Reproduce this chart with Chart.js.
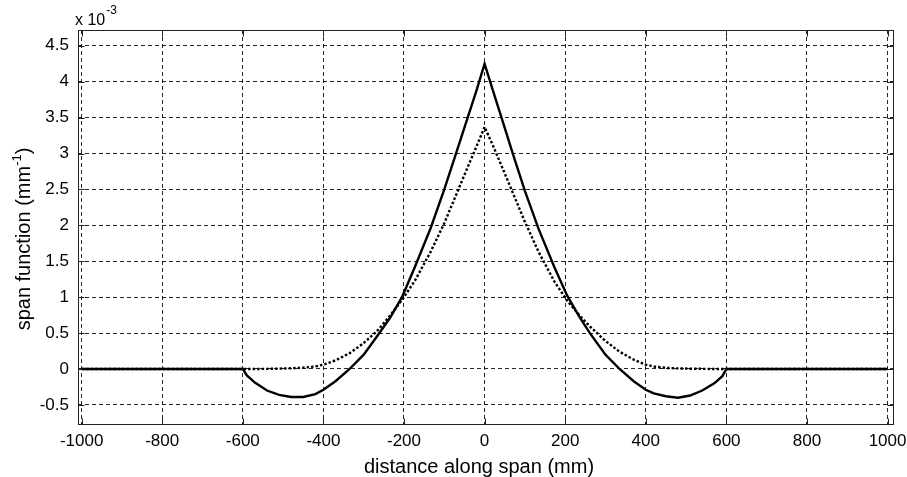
<!DOCTYPE html>
<html><head><meta charset="utf-8">
<script src="https://cdn.jsdelivr.net/npm/chart.js@4.4.1/dist/chart.umd.min.js"></script>
<style>html,body{margin:0;padding:0;background:#fff;}canvas{display:block;}</style>
</head><body>
<canvas id="c" width="907" height="477"></canvas>
<script>
// distance along span (mm)
const positions = [-1000, -800, -600, -590, -570, -540, -510, -480, -450, -420, -400, -370, -335, -300, -265, -235, -205, -173, -134, -100, -71, -42, -20,
  0,
  20, 42, 71, 100, 134, 173, 205, 235, 260, 300, 335, 370, 400, 420, 450, 480, 510, 540, 570, 590, 600, 800, 1000];
// span function (x 10^-3 mm^-1), solid curve
const solidCurve = [0, 0, 0, -0.09, -0.19, -0.30, -0.36, -0.39, -0.39, -0.35, -0.29, -0.17, 0, 0.2, 0.47, 0.71, 1.0, 1.42, 1.96, 2.5, 3.0, 3.5, 3.88,
  4.25,
  3.89, 3.5, 2.98, 2.48, 1.95, 1.42, 1.02, 0.73, 0.51, 0.2, 0, -0.17, -0.29, -0.34, -0.38, -0.40, -0.37, -0.30, -0.20, -0.10, 0, 0, 0];
// span function (x 10^-3 mm^-1), dotted curve
const dottedCurve = [0, 0, 0, 0, 0, 0.002, 0.005, 0.01, 0.018, 0.035, 0.06, 0.12, 0.22, 0.36, 0.54, 0.74, 0.96, 1.23, 1.63, 2.03, 2.42, 2.81, 3.1,
  3.37,
  3.12, 2.83, 2.44, 2.05, 1.63, 1.22, 0.95, 0.75, 0.6, 0.39, 0.24, 0.13, 0.06, 0.035, 0.015, 0.008, 0.004, 0.002, 0, 0, 0, 0, 0];
const xTickValues = [-1000, -800, -600, -400, -200, 0, 200, 400, 600, 800, 1000];
const yTickValues = [-0.5, 0, 0.5, 1, 1.5, 2, 2.5, 3, 3.5, 4, 4.5];
const xTitle = 'distance along span (mm)';
const yTitleMain = 'span function (mm';
const yTitleSup = '-1';
const yTitleEnd = ')';
const multiplierBase = 'x 10';
const multiplierExp = '-3';

const FONT = '"Liberation Sans", Arial, Helvetica, sans-serif';

const decor = {
  id: 'decor',
  afterDraw(chart) {
    const {ctx, chartArea: a, scales: {x, y}} = chart;
    ctx.save();
    ctx.setLineDash([]);
    ctx.strokeStyle = '#222';
    ctx.lineWidth = 1;
    const L = Math.round(a.left) + 0.5, R = Math.round(a.right) - 0.5;
    const T = Math.round(a.top) + 0.5, B = Math.round(a.bottom) - 0.5;
    ctx.strokeRect(L, T, R - L, B - T);
    const tl = 6;
    ctx.beginPath();
    xTickValues.forEach(v => {
      const px = Math.round(x.getPixelForValue(v)) + 0.5;
      ctx.moveTo(px, B); ctx.lineTo(px, B - tl);
      ctx.moveTo(px, T); ctx.lineTo(px, T + tl);
    });
    yTickValues.forEach(v => {
      const py = Math.round(y.getPixelForValue(v)) + 0.5;
      ctx.moveTo(L, py); ctx.lineTo(L + tl, py);
      ctx.moveTo(R, py); ctx.lineTo(R - tl, py);
    });
    ctx.stroke();

    ctx.fillStyle = '#000';
    // x title
    ctx.font = '20px ' + FONT;
    ctx.textAlign = 'center';
    ctx.textBaseline = 'alphabetic';
    ctx.fillText(xTitle, 479, 473);

    // y title (rotated, with superscript)
    ctx.save();
    ctx.translate(30, 239);
    ctx.rotate(-Math.PI / 2);
    ctx.textAlign = 'left';
    const mainFont = '20px ' + FONT, supFont = '13px ' + FONT;
    ctx.font = mainFont; const w1 = ctx.measureText(yTitleMain).width;
    ctx.font = supFont; const w2 = ctx.measureText(yTitleSup).width;
    ctx.font = mainFont; const w3 = ctx.measureText(yTitleEnd).width;
    let sx = -(w1 + w2 + w3) / 2;
    ctx.fillText(yTitleMain, sx, 0); sx += w1;
    ctx.font = supFont; ctx.fillText(yTitleSup, sx, -9); sx += w2;
    ctx.font = mainFont; ctx.fillText(yTitleEnd, sx, 0);
    ctx.restore();

    // multiplier
    ctx.textAlign = 'left';
    ctx.font = '16px ' + FONT;
    ctx.fillText(multiplierBase, 75, 25);
    const mw = ctx.measureText(multiplierBase).width;
    ctx.font = '12px ' + FONT;
    ctx.fillText(multiplierExp, 75 + mw + 1, 14);
    ctx.restore();
  }
};

const gridOpts = {color: 'rgba(0,0,0,0.85)', lineWidth: 1, drawTicks: false};

new Chart(document.getElementById('c'), {
  type: 'scatter',
  data: {
    datasets: [
      {
        data: positions.map((p, i) => ({x: p, y: solidCurve[i]})),
        showLine: true, borderColor: '#000', borderWidth: 2.4, pointRadius: 0, tension: 0, fill: false
      },
      {
        data: positions.map((p, i) => ({x: p, y: dottedCurve[i]})),
        showLine: true, borderColor: '#000', borderWidth: 2.4, borderDash: [2.5, 2], pointRadius: 0, tension: 0, fill: false
      }
    ]
  },
  options: {
    responsive: false,
    animation: false,
    devicePixelRatio: 1,
    layout: {padding: {top: 30, right: 13, left: 0, bottom: 0}},
    plugins: {legend: {display: false}, tooltip: {enabled: false}},
    scales: {
      x: {
        type: 'linear', min: -1009, max: 1016,
        afterBuildTicks: s => { s.ticks = xTickValues.map(v => ({value: v})); },
        afterFit: s => { s.height = 52; s.paddingLeft = 0; s.paddingRight = 0; },
        grid: gridOpts,
        border: {display: false, dash: [4, 3]},
        ticks: {padding: 6, color: '#000', font: {family: FONT, size: 17}, maxRotation: 0, autoSkip: false,
          callback: v => String(v)}
      },
      y: {
        type: 'linear', min: -0.78, max: 4.72,
        afterBuildTicks: s => { s.ticks = yTickValues.map(v => ({value: v})); },
        afterFit: s => { s.width = 78; s.paddingTop = 0; s.paddingBottom = 0; },
        grid: gridOpts,
        border: {display: false, dash: [4, 3]},
        ticks: {padding: 9, color: '#000', font: {family: FONT, size: 17}, autoSkip: false,
          callback: v => String(v)}
      }
    }
  },
  plugins: [decor]
});
</script>
</body></html>
